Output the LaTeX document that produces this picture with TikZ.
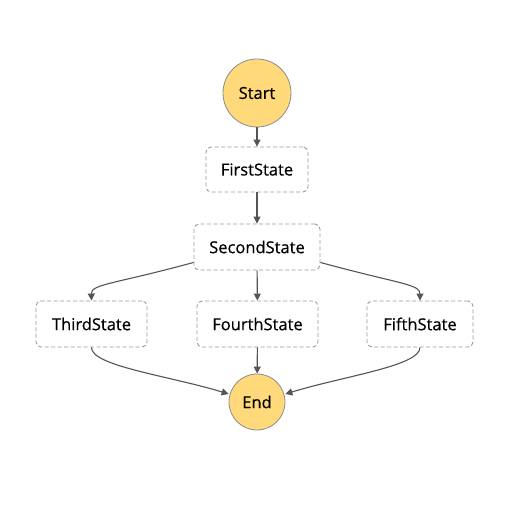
\documentclass[tikz,border=0pt]{standalone}
\usepackage{fontspec}
\setmainfont[FakeBold=0.5]{Open Sans}
\usetikzlibrary{arrows.meta}
\definecolor{termfill}{HTML}{FFD97A}
\definecolor{termline}{HTML}{8C8C8C}
\definecolor{boxline}{HTML}{9A9A9A}
\definecolor{arrowc}{HTML}{555555}
\begin{document}
\begin{tikzpicture}[x=1pt,y=-1pt,
  every node/.style={font=\fontsize{16.5}{19}\selectfont, text=black, inner sep=0pt},
  stbox/.style={draw=boxline, dashed, dash pattern=on 4pt off 2.5pt, line width=0.9pt, rounded corners=5pt, fill=white},
  term/.style={circle, draw=termline, line width=0.8pt, fill=termfill},
  conn/.style={draw=arrowc, line width=1.1pt, -{Triangle[length=7pt,width=7pt]}}
]
\useasboundingbox (0,0) rectangle (523,513);
\fill[white] (0,0) rectangle (523,513);
\node[term, minimum size=68pt] (start) at (257,93) {Start};
\node[stbox, minimum width=102pt, minimum height=45pt] (first) at (257,169.5) {FirstState};
\node[stbox, minimum width=126pt, minimum height=46pt] (second) at (257,247) {SecondState};
\node[stbox, minimum width=111pt, minimum height=46pt] (third) at (91.5,324) {ThirdState};
\node[stbox, minimum width=121pt, minimum height=46pt] (fourth) at (257.5,324) {FourthState};
\node[stbox, minimum width=106pt, minimum height=46pt] (fifth) at (420,324) {FifthState};
\node[term, minimum size=56pt] (end) at (257,402) {End};
\draw[conn] (start) -- (first);
\draw[conn] (first) -- (second);
\draw[conn] (second) -- (fourth);
\draw[conn] (fourth) -- (end);
\draw[conn] ([yshift=8pt]second.south west) .. controls (115,284) and (91,284) .. (third.north);
\draw[conn] ([yshift=8pt]second.south east) .. controls (399,284) and (420,284) .. (fifth.north);
\draw[conn] (third.south) .. controls (91,366) and (170,376) .. (end.west |- 0,394);
\draw[conn] (fifth.south) .. controls (420,366) and (344,376) .. (end.east |- 0,394);
\end{tikzpicture}
\end{document}
